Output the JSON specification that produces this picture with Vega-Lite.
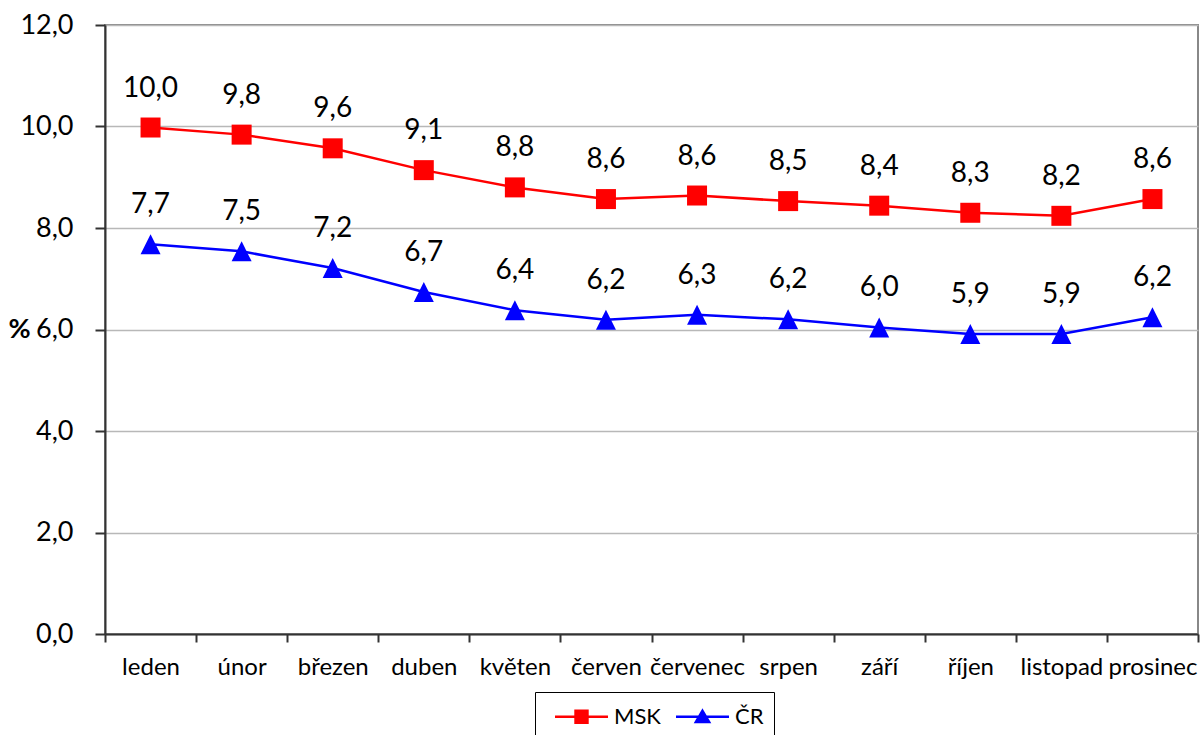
{
  "$schema": "https://vega.github.io/schema/vega-lite/v6.json",
  "width": 1093,
  "height": 609,
  "autosize": {"type": "none"},
  "padding": {"left": 105, "top": 25, "right": 3, "bottom": 101},
  "background": "white",
  "config": {
    "locale": {"number": {"decimal": ",", "thousands": " ", "grouping": [3], "currency": ["", " Kč"]}},
    "font": "Lato",
    "view": {"stroke": "#888888", "strokeWidth": 2},
    "axis": {"labelFont": "Lato", "titleFont": "Lato", "labelColor": "#000000", "titleColor": "#000000"},
    "legend": {
      "title": null,
      "orient": "none",
      "legendX": 430,
      "legendY": 667,
      "direction": "horizontal",
      "strokeColor": "#000000",
      "padding": 10,
      "symbolSize": 702,
      "symbolStrokeWidth": 2.5,
      "symbolOffset": 22,
      "labelOffset": 18,
      "columnPadding": 5,
      "labelFontSize": 22,
      "labelFont": "Lato",
      "labelColor": "#000000",
      "symbolOpacity": 1
    }
  },
  "data": {
    "values": [
      {"month": "leden", "series": "MSK", "value": 9.98},
      {"month": "únor", "series": "MSK", "value": 9.84},
      {"month": "březen", "series": "MSK", "value": 9.57},
      {"month": "duben", "series": "MSK", "value": 9.14},
      {"month": "květen", "series": "MSK", "value": 8.80},
      {"month": "červen", "series": "MSK", "value": 8.57},
      {"month": "červenec", "series": "MSK", "value": 8.64},
      {"month": "srpen", "series": "MSK", "value": 8.53},
      {"month": "září", "series": "MSK", "value": 8.44},
      {"month": "říjen", "series": "MSK", "value": 8.30},
      {"month": "listopad", "series": "MSK", "value": 8.24},
      {"month": "prosinec", "series": "MSK", "value": 8.57},
      {"month": "leden", "series": "ČR", "value": 7.68},
      {"month": "únor", "series": "ČR", "value": 7.54},
      {"month": "březen", "series": "ČR", "value": 7.21},
      {"month": "duben", "series": "ČR", "value": 6.74},
      {"month": "květen", "series": "ČR", "value": 6.38},
      {"month": "červen", "series": "ČR", "value": 6.19},
      {"month": "červenec", "series": "ČR", "value": 6.29},
      {"month": "srpen", "series": "ČR", "value": 6.20},
      {"month": "září", "series": "ČR", "value": 6.04},
      {"month": "říjen", "series": "ČR", "value": 5.91},
      {"month": "listopad", "series": "ČR", "value": 5.91},
      {"month": "prosinec", "series": "ČR", "value": 6.24}
    ]
  },
  "encoding": {
    "x": {
      "field": "month",
      "type": "nominal",
      "sort": ["leden", "únor", "březen", "duben", "květen", "červen", "červenec", "srpen", "září", "říjen", "listopad", "prosinec"],
      "scale": {"type": "band", "paddingInner": 0, "paddingOuter": 0},
      "axis": {
        "title": null,
        "labelAngle": 0,
        "tickBand": "extent",
        "tickSize": 8,
        "tickColor": "#333333",
        "tickWidth": 2,
        "domainColor": "#333333",
        "domainWidth": 2,
        "labelPadding": 13,
        "labelFontSize": 24,
        "grid": false
      }
    },
    "y": {
      "field": "value",
      "type": "quantitative",
      "scale": {"domain": [0, 12], "nice": false},
      "axis": {
        "values": [0, 2, 4, 6, 8, 10, 12],
        "format": ".1f",
        "title": "%",
        "titleAngle": 0,
        "titleAlign": "left",
        "titleBaseline": "middle",
        "titleX": -97,
        "titleY": 304,
        "titleFontSize": 27,
        "titleFontWeight": "bold",
        "labelFontSize": 27,
        "labelPadding": 22,
        "tickSize": 10,
        "tickColor": "#333333",
        "tickWidth": 2,
        "domainColor": "#333333",
        "domainWidth": 2,
        "grid": true,
        "gridColor": "#b8b8b8",
        "gridWidth": 1.5
      }
    },
    "color": {
      "field": "series",
      "type": "nominal",
      "scale": {"domain": ["MSK", "ČR"], "range": ["#ff0000", "#0000ff"]}
    }
  },
  "layer": [
    {
      "mark": {"type": "point", "filled": false, "opacity": 0},
      "encoding": {
        "shape": {
          "field": "series",
          "type": "nominal",
          "scale": {"domain": ["MSK", "ČR"], "range": ["M-2,0H2M-0.45,-0.45H0.45V0.45H-0.45ZM-0.45,-0.3H0.45M-0.45,-0.15H0.45M-0.45,0.15H0.45M-0.45,0.3H0.45", "M-2,0H2M0,-0.45L0.5,0.4H-0.5ZM-0.09,-0.3H0.09M-0.18,-0.15H0.18M-0.35,0.15H0.35M-0.44,0.3H0.44"]}
        }
      }
    },
    {"mark": {"type": "line", "strokeWidth": 2.5}},
    {
      "transform": [{"filter": "datum.series === 'MSK'"}],
      "mark": {"type": "point", "filled": true, "opacity": 1, "size": 400, "shape": "square"}
    },
    {
      "transform": [{"filter": "datum.series === 'ČR'"}],
      "mark": {"type": "point", "filled": true, "opacity": 1, "size": 400, "shape": "M0,-1L1,1L-1,1Z"}
    },
    {
      "mark": {"type": "text", "dy": -39, "fontSize": 28, "font": "Lato", "baseline": "middle"},
      "encoding": {
        "text": {"field": "value", "type": "quantitative", "format": ".1f"},
        "color": {"value": "#000000"}
      }
    }
  ]
}
